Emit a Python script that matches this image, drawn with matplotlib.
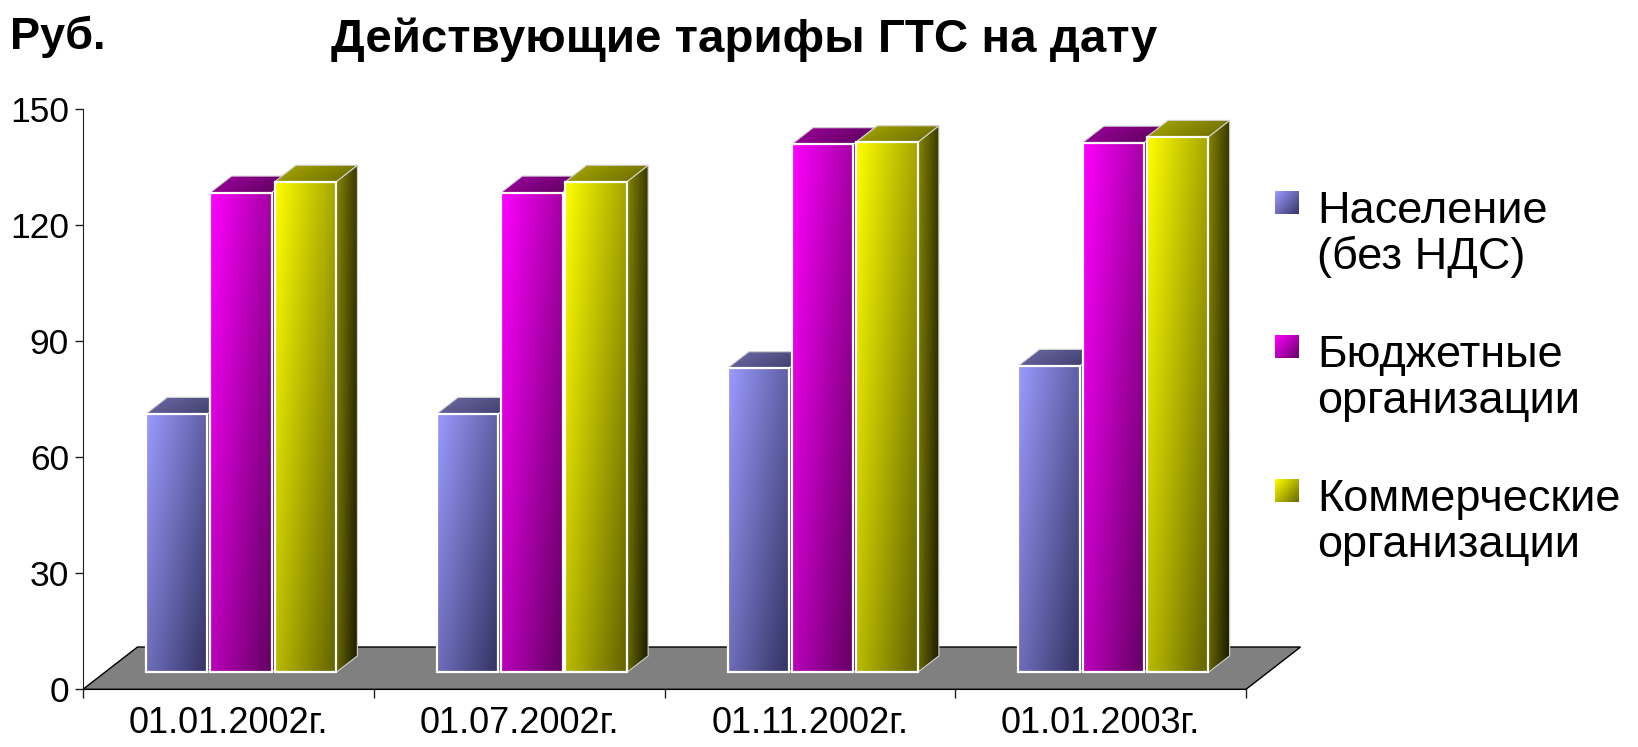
import numpy as np
import matplotlib
matplotlib.use('Agg')
import matplotlib.pyplot as plt
from matplotlib.patches import Polygon

plt.rcParams['font.family'] = ['Liberation Sans', 'DejaVu Sans']

# данные
dates = ['01.01.2002г.', '01.07.2002г.', '01.11.2002г.', '01.01.2003г.']
naselenie = [66.8, 66.8, 78.6, 79.2]
budget = [124.0, 124.0, 136.5, 136.9]
kommerch = [126.8, 126.8, 137.0, 138.4]
series_names = [['Население', '(без НДС)'],
                ['Бюджетные', 'организации'],
                ['Коммерческие', 'организации']]
yticks = [0, 30, 60, 90, 120, 150]

# цвета: передняя грань (светлый, тёмный), верх, бок
front_c = [((155, 155, 255), (55, 55, 105)),
           ((255, 0, 255), (105, 0, 105)),
           ((255, 255, 0), (105, 105, 0))]
top_c = [((110, 110, 170), (60, 60, 105)),
         ((160, 0, 160), (95, 0, 95)),
         ((170, 170, 0), (110, 110, 0))]
side_c = [((90, 90, 140), (35, 35, 60)),
          ((130, 0, 130), (45, 0, 45)),
          ((135, 135, 0), (35, 35, 0))]

# геометрия псевдо-3D
DXF, DYF = 0.1875, 10.93     # глубина пола (в единицах осей)
Z0, Z1 = 0.40, 0.79          # передняя и задняя грань столбика
OFF, SLOT, W = 0.1417, 0.2212, 0.2115


def P(x, y, z):
    return (x + z * DXF, y + z * DYF)


def shade(ax, verts, c0, c1, wx, wy, z, edge, lw):
    verts = np.asarray(verts)
    poly = Polygon(verts, closed=True, facecolor='none', edgecolor=edge,
                   lw=lw, zorder=z + 0.5, transform=ax.transData)
    ax.add_patch(poly)
    x0, y0 = verts.min(axis=0)
    x1, y1 = verts.max(axis=0)
    U, V = np.meshgrid(np.linspace(0, 1, 80), np.linspace(0, 1, 80))
    t = np.clip(wx * U + wy * V, 0, 1)[..., None]
    img = (np.array(c0) * (1 - t) + np.array(c1) * t) / 255.0
    im = ax.imshow(img, extent=(x0, x1, y0, y1), origin='upper',
                   aspect='auto', interpolation='bilinear', zorder=z)
    im.set_clip_path(poly)


fig = plt.figure(figsize=(16.38, 7.47), dpi=100)
ax = fig.add_axes([83 / 1638, (747 - 689.3) / 747,
                   (1246 - 83) / 1638, (689.3 - 108.9) / 747])

# пол
floor = Polygon([P(0, 0, 0), P(4, 0, 0), P(4, 0, 1), P(0, 0, 1)], closed=True,
                facecolor='#808080', edgecolor='black', lw=1.0, zorder=1,
                clip_on=False)
ax.add_patch(floor)

z = 2
for i in range(len(dates)):
    for j, vals in enumerate([naselenie, budget, kommerch]):
        h = vals[i]
        xl = i + OFF + j * SLOT
        xr = xl + W
        side = [P(xr, 0, Z0), P(xr, 0, Z1), P(xr, h, Z1), P(xr, h, Z0)]
        top = [P(xl, h, Z0), P(xr, h, Z0), P(xr, h, Z1), P(xl, h, Z1)]
        front = [P(xl, 0, Z0), P(xr, 0, Z0), P(xr, h, Z0), P(xl, h, Z0)]
        shade(ax, side, side_c[j][0], side_c[j][1], 0.8, 0.3, z, '#d0d0d0', 0.8)
        shade(ax, top, top_c[j][0], top_c[j][1], 0.8, 0.3, z + 1, '#d0d0d0', 0.8)
        shade(ax, front, front_c[j][0], front_c[j][1], 0.6, 0.45, z + 2, 'white', 1.6)
        z += 3

ax.set_xlim(0, 4)
ax.set_ylim(0, 150)
ax.set_facecolor('none')
for s in ['top', 'right']:
    ax.spines[s].set_visible(False)
ax.spines['left'].set_color('#202020')
ax.spines['bottom'].set_color('black')
ax.spines['bottom'].set_zorder(1.5)
ax.set_yticks(yticks)
ax.set_yticklabels([str(v) for v in yticks])
ax.set_xticks([0, 1, 2, 3, 4])
ax.set_xticklabels([])
ax.set_xticks([0.5, 1.5, 2.5, 3.5], minor=True)
ax.set_xticklabels(dates, minor=True)
ax.tick_params(axis='y', length=6, width=1, color='#202020', labelsize=25.5, pad=4)
ax.tick_params(axis='x', which='major', length=6.5, width=1, color='#202020')
ax.tick_params(axis='x', which='minor', length=0, labelsize=26, pad=12)

# надписи и легенда в пикселях
ov = fig.add_axes([0, 0, 1, 1])
ov.set_xlim(0, 1638)
ov.set_ylim(747, 0)
ov.axis('off')
ov.set_zorder(-1)

ov.text(744, 40, 'Действующие тарифы ГТС на дату', ha='center', va='center',
        fontsize=34.2, weight='bold')
ov.text(10, 37, 'Руб.', ha='left', va='center', fontsize=32.5, weight='bold')

for k, names in enumerate(series_names):
    ytop = 191 + k * 144
    U, V = np.meshgrid(np.linspace(0, 1, 30), np.linspace(0, 1, 30))
    t = np.clip(0.55 * U + 0.45 * V, 0, 1)[..., None]
    img = (np.array(front_c[k][0]) * (1 - t) + np.array(front_c[k][1]) * t) / 255.0
    ov.imshow(img, extent=(1275, 1299, ytop + 23, ytop), origin='upper',
              aspect='auto', interpolation='bilinear')
    base = 223 + k * 144
    ov.text(1317, base, names[0], ha='left', va='baseline', fontsize=32.5)
    ov.text(1317, base + 46, names[1], ha='left', va='baseline', fontsize=32.5)
ov.set_xlim(0, 1638)
ov.set_ylim(747, 0)

fig.savefig('out.png', dpi=100)
